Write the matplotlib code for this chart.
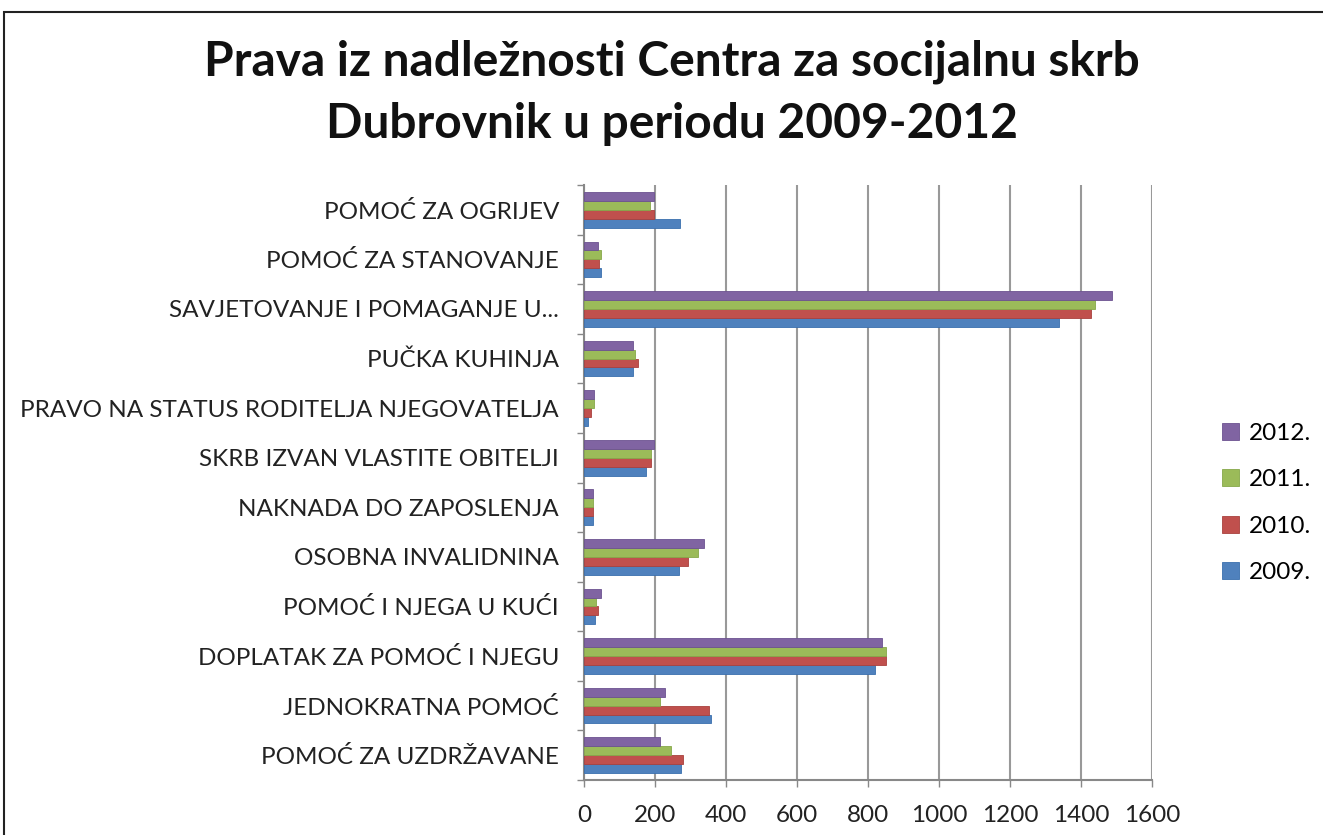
import matplotlib
matplotlib.use("Agg")
import matplotlib.pyplot as plt
from matplotlib.patches import Rectangle
import numpy as np

categories = [
    "POMOĆ ZA UZDRŽAVANE",
    "JEDNOKRATNA POMOĆ",
    "DOPLATAK ZA POMOĆ I NJEGU",
    "POMOĆ I NJEGA U KUĆI",
    "OSOBNA INVALIDNINA",
    "NAKNADA DO ZAPOSLENJA",
    "SKRB IZVAN VLASTITE OBITELJI",
    "PRAVO NA STATUS RODITELJA NJEGOVATELJA",
    "PUČKA KUHINJA",
    "SAVJETOVANJE I POMAGANJE U...",
    "POMOĆ ZA STANOVANJE",
    "POMOĆ ZA OGRIJEV",
]
years = ["2009.", "2010.", "2011.", "2012."]
v2009 = [273, 359, 819, 31, 269, 24, 176, 12, 138, 1338, 47, 270]
v2010 = [278, 351, 851, 40, 292, 24, 190, 20, 153, 1428, 42, 198]
v2011 = [246, 215, 851, 34, 320, 24, 190, 28, 145, 1439, 47, 187]
v2012 = [215, 227, 839, 47, 339, 24, 196, 28, 138, 1486, 39, 198]
xticks = [0, 200, 400, 600, 800, 1000, 1200, 1400, 1600]

colors = ["#4F81BD", "#C0504D", "#9BBB59", "#8064A2"]
edges = ["#3A6FAE", "#A9413E", "#86A84A", "#6C5290"]

W, H = 1323, 835
fig = plt.figure(figsize=(W / 100, H / 100), dpi=100)
fig.patch.set_facecolor("white")

font = "Lato"
fs = 17.5

# outer frame
fig.add_artist(Rectangle((4 / W, -0.01), 1.0, 1 - 12 / H + 0.01, transform=fig.transFigure,
                         fill=False, edgecolor="#222222", linewidth=1.5))

ax = fig.add_axes([584 / W, 1 - 780 / H, (1152 - 584) / W, (780 - 185) / H])
y = np.arange(len(categories))
bh = 0.18
series = [v2009, v2010, v2011, v2012]
for i, vals in enumerate(series):
    off = (i - 1.5) * bh
    ax.barh(y + off, vals, height=bh, color=colors[i], edgecolor=edges[i],
            linewidth=0.6, label=years[i], zorder=3)

ax.set_xlim(0, 1600)
ax.set_ylim(-0.5, len(categories) - 0.5)
ax.set_xticks(xticks)
ax.set_xticklabels([str(t) for t in xticks], fontsize=fs, family=font, color="#222222")
ax.set_yticks(y)
ax.set_yticklabels(categories, fontsize=fs, family=font, color="#222222")
ax.tick_params(axis="y", which="major", length=0, pad=18)
ax.tick_params(axis="x", which="major", length=5, pad=13, color="#888888", width=1)
ax.set_yticks(np.arange(-0.5, len(categories), 1.0), minor=True)
ax.tick_params(axis="y", which="minor", length=5, color="#888888", width=1)

ax.grid(axis="x", color="#999999", linewidth=1.5, zorder=0)
for s in ["top", "right"]:
    ax.spines[s].set_visible(False)
for s in ["left", "bottom"]:
    ax.spines[s].set_color("#888888")
    ax.spines[s].set_linewidth(1.5)

# title
fig.text(672 / W, 1 - 62 / H, "Prava iz nadležnosti Centra za socijalnu skrb",
         ha="center", va="center", fontsize=34.5, fontweight="bold", family=font, color="#111111")
fig.text(672 / W, 1 - 124 / H, "Dubrovnik u periodu 2009-2012",
         ha="center", va="center", fontsize=34.5, fontweight="bold", family=font, color="#111111")

# legend
handles, labels = ax.get_legend_handles_labels()
fig.legend(handles[::-1], labels[::-1], loc="center left",
           bbox_to_anchor=(1200 / W, 1 - 503 / H), frameon=False,
           prop={"family": font, "size": fs}, handlelength=0.7, handleheight=0.7,
           labelspacing=1.05, handletextpad=0.4)

fig.savefig("out.png", dpi=100, facecolor="white")
